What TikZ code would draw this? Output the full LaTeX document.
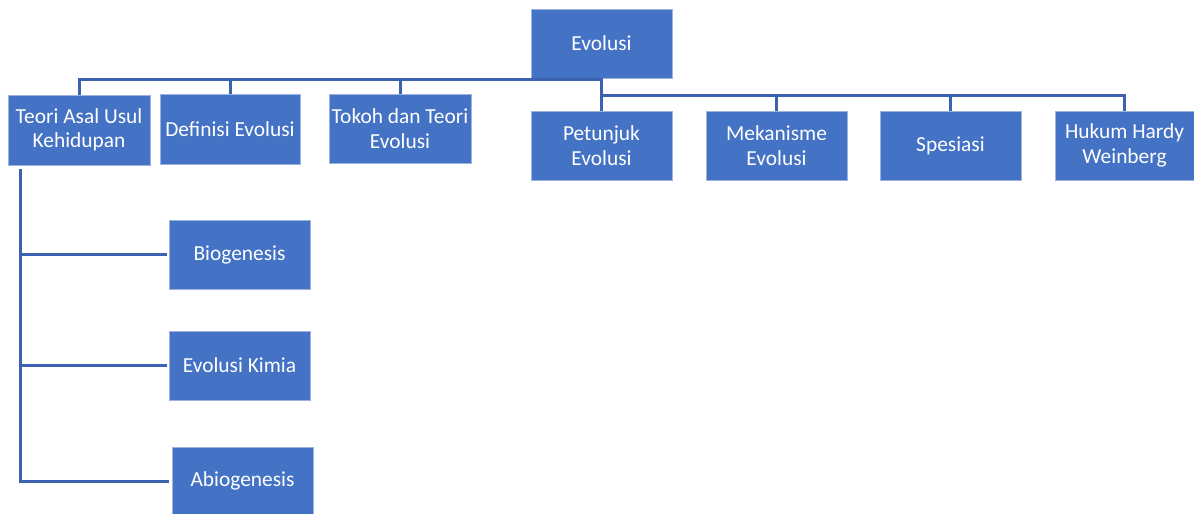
\documentclass[tikz,border=0pt]{standalone}
\usepackage{fontspec}
\setmainfont{Carlito}
\definecolor{boxblue}{HTML}{4472C4}
\definecolor{boxedge}{HTML}{9DB3E0}
\definecolor{linkblue}{HTML}{3A62AE}
\begin{document}
\begin{tikzpicture}[x=1pt,y=-1pt,
  box/.style={fill=boxblue,draw=boxedge,line width=0.8pt,text=white,align=center,
    inner sep=0pt,minimum height=69pt,font=\fontsize{21.4}{24.5}\selectfont},
  link/.style={draw=linkblue,line width=3pt}]
\useasboundingbox (0,0) rectangle (1194,514);
\node[box,minimum width=141pt] (ev) at (601.5,43.5) {Evolusi};
\node[box,minimum width=142pt,minimum height=70pt] (teori) at (79,130) {Teori Asal Usul\\Kehidupan};
\node[box,minimum width=140pt,minimum height=70pt] (def) at (230,129) {Definisi Evolusi};
\node[box,minimum width=142pt] (tokoh) at (400,128.5) {Tokoh dan Teori\\Evolusi};
\node[box,minimum width=141pt] (pet) at (601.5,145.5) {Petunjuk\\Evolusi};
\node[box,minimum width=141pt] (mek) at (776.5,145.5) {Mekanisme\\Evolusi};
\node[box,minimum width=141pt] (spe) at (950.5,145.5) {Spesiasi};
\node[box,minimum width=139pt] (huk) at (1124.5,145.5) {Hukum Hardy\\Weinberg};
\node[box,minimum width=141pt] (bio) at (239.5,254.5) {Biogenesis};
\node[box,minimum width=141pt] (kim) at (239.5,365.5) {Evolusi Kimia};
\node[box,minimum width=141pt,minimum height=68pt] (abio) at (242.5,481) {Abiogenesis};
\coordinate (lb) at (0,79);
\coordinate (rb) at (0,95);
\coordinate (lv) at (20,169);
% left bus
\draw[link] (teori.north) -- (teori.north |- lb) -- (ev.south |- lb);
\draw[link] (def.north) -- (def.north |- lb);
\draw[link] (tokoh.north) -- (tokoh.north |- lb);
% right bus
\draw[link] (ev.south) -- (ev.south |- rb) -- (huk.north |- rb) -- (huk.north);
\draw[link] (pet.north) -- (pet.north |- rb);
\draw[link] (mek.north) -- (mek.north |- rb);
\draw[link] (spe.north) -- (spe.north |- rb);
% left tree
\draw[link] (lv) -- (lv |- abio.west) -- ([xshift=-3pt]abio.west);
\draw[link] (lv |- bio.west) -- ([xshift=-2pt]bio.west);
\draw[link] (lv |- kim.west) -- ([xshift=-2pt]kim.west);
\end{tikzpicture}
\end{document}
